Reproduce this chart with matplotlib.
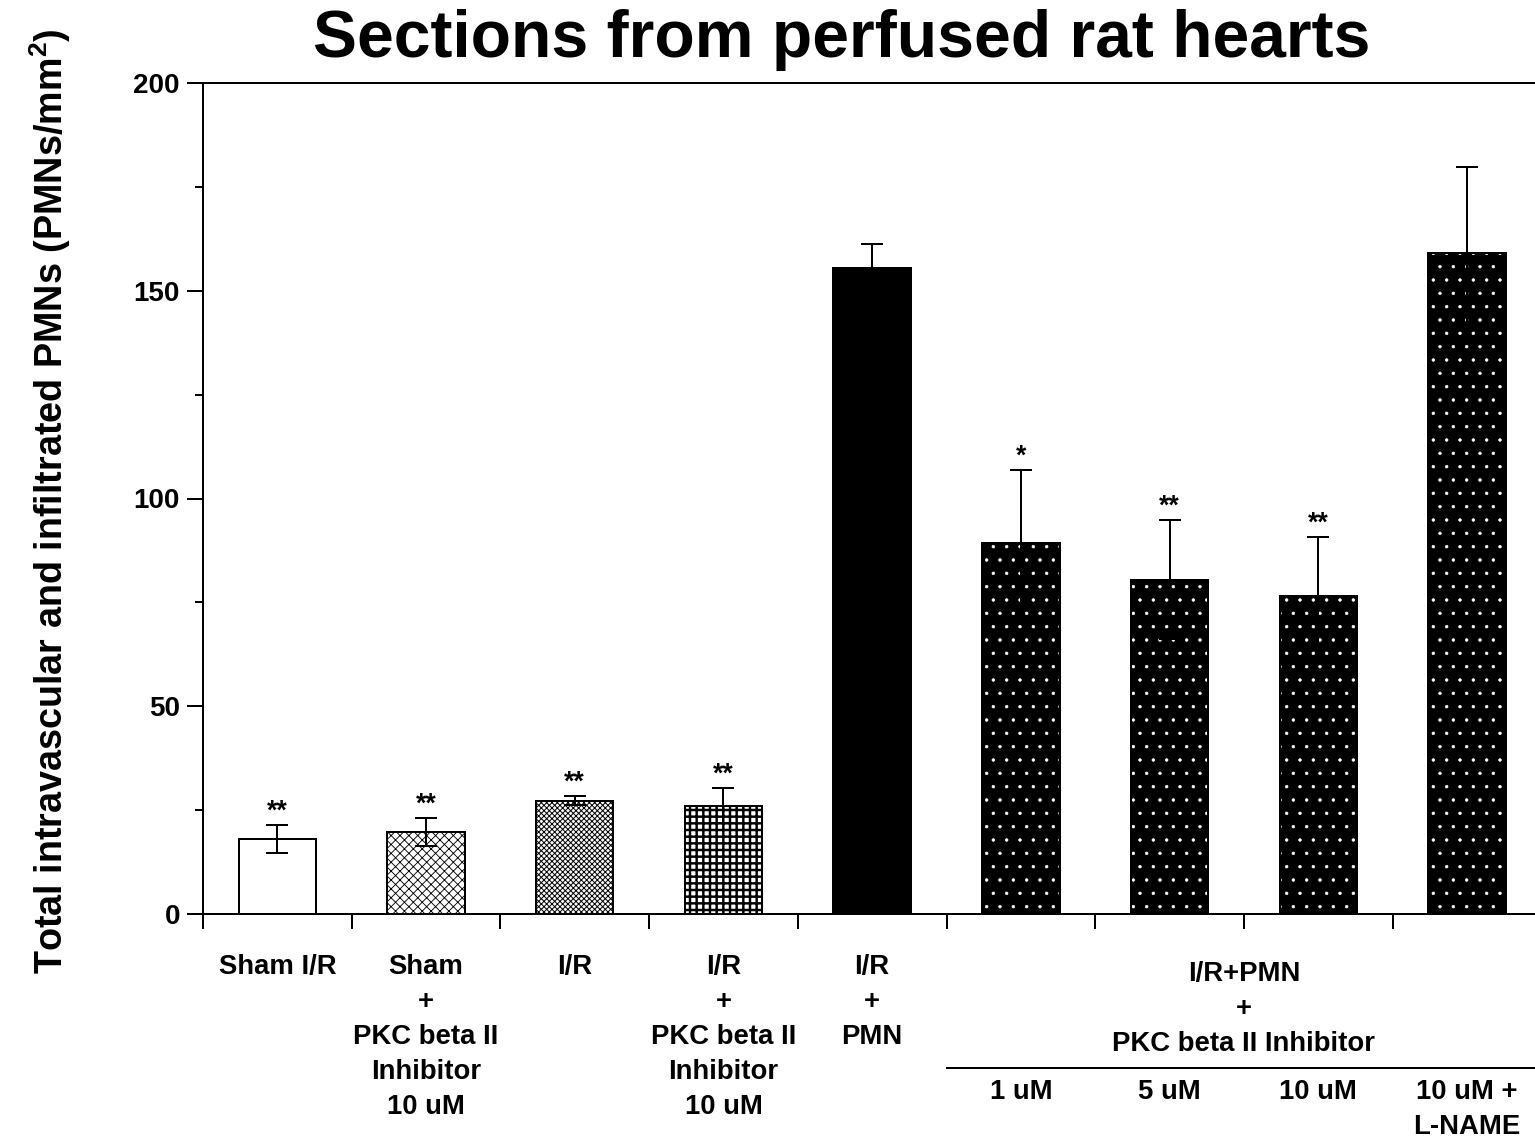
import numpy as np
import matplotlib
matplotlib.use("Agg")
import matplotlib.pyplot as plt
from matplotlib.transforms import blended_transform_factory
from matplotlib.ticker import MultipleLocator

# ---- data -------------------------------------------------------------
categories = [
    "Sham I/R",
    "Sham\n+\nPKC beta II\nInhibitor\n10 uM",
    "I/R",
    "I/R\n+\nPKC beta II\nInhibitor\n10 uM",
    "I/R\n+\nPMN",
    "1 uM",
    "5 uM",
    "10 uM",
    "10 uM +\nL-NAME",
]
means = [18.0, 19.8, 27.3, 26.1, 155.5, 89.2, 80.5, 76.5, 159.0]
sems = [3.4, 3.4, 1.1, 4.2, 5.8, 17.7, 14.3, 14.3, 20.8]
stars = ["**", "**", "**", "**", "", "*", "**", "**", ""]
group_label = "I/R+PMN\n+\nPKC beta II Inhibitor"
group_members = [5, 6, 7, 8]
title = "Sections from perfused rat hearts"
ylabel = "Total intravascular and infiltrated PMNs (PMNs/mm$^{2}$)"

# fill style per bar: (face colour, hatch, hatch colour, hatch linewidth)
fills = [
    ("white", None, "black", 1.0),
    ("white", "xxx", "black", 0.8),
    ("white", "xxxxx", "black", 0.9),
    ("white", "++", "black", 2.2),
    ("black", None, "black", 1.0),
    ("black", ".", "white", 0.6),
    ("black", ".", "white", 0.6),
    ("black", ".", "white", 0.6),
    ("black", ".", "white", 0.6),
]

# ---- figure ------------------------------------------------------------
DPI = 80
W, H = 1535, 1146
plt.rcParams["font.family"] = ["Liberation Sans", "DejaVu Sans"]
plt.rcParams["font.weight"] = "bold"
plt.rcParams["mathtext.fontset"] = "custom"
plt.rcParams["mathtext.rm"] = "Liberation Sans:bold"
plt.rcParams["mathtext.it"] = "Liberation Sans:bold"
plt.rcParams["mathtext.bf"] = "Liberation Sans:bold"
plt.rcParams["mathtext.default"] = "rm"

fig = plt.figure(figsize=(W / DPI, H / DPI), dpi=DPI)
fig.patch.set_facecolor("white")

ax_left, ax_bottom, ax_top = 203, 914, 83
cat_w = 148.7
ax = fig.add_axes([ax_left / W, (H - ax_bottom) / H,
                   9 * cat_w / W, (ax_bottom - ax_top) / H])

px = 72.0 / DPI  # points per pixel
lw = 2.0 * px

x = np.arange(len(categories))
bar_w = 0.52

# filled / hatched bodies
for xi, m, (fc, hatch, hc, hlw) in zip(x, means, fills):
    b = ax.bar(xi, m, width=bar_w, color=fc, edgecolor=hc, linewidth=0,
               zorder=2)[0]
    if hatch:
        b.set_hatch(hatch)
        if hasattr(b, "set_hatch_linewidth"):
            b.set_hatch_linewidth(hlw)

# outlines
ax.bar(x, means, width=bar_w, fill=False, edgecolor="black", linewidth=lw,
       zorder=3)

# error bars
ax.errorbar(x, means, yerr=sems, fmt="none", ecolor="black",
            elinewidth=lw, capsize=11 * px, capthick=lw, zorder=4)

# significance marks
for xi, m, s, st in zip(x, means, sems, stars):
    if st:
        ax.annotate(st, (xi, m + s), xytext=(0, 6 * px),
                    textcoords="offset points", ha="center", va="baseline",
                    fontsize=24, fontweight="bold")

# ---- axes styling ------------------------------------------------------
ax.set_xlim(-0.5, len(categories) - 0.5)
ax.set_ylim(0, 200)
ax.yaxis.set_major_locator(MultipleLocator(50))
ax.yaxis.set_minor_locator(MultipleLocator(25))
ax.set_xticks(np.arange(-0.5, len(categories), 1.0))
ax.set_xticklabels([])
ax.tick_params(axis="x", direction="out", length=15 * px, width=lw)
ax.tick_params(axis="y", which="major", direction="out", length=16 * px,
               width=lw, labelsize=25, pad=7 * px)
ax.tick_params(axis="y", which="minor", direction="out", length=8 * px,
               width=lw)
for lab in ax.get_yticklabels():
    lab.set_fontweight("bold")
for side in ("left", "bottom", "top"):
    ax.spines[side].set_linewidth(lw)
ax.spines["right"].set_visible(False)

trans = blended_transform_factory(ax.transData, ax.transAxes)


def frac(ypix):
    return (ax_bottom - ypix) / (ax_bottom - ax_top)


LS = 1.45

# category labels
for xi, lab in enumerate(categories):
    top = 1079 if xi in group_members else 954
    ax.text(xi, frac(top), lab, transform=trans, ha="center", va="top",
            fontsize=24.75, fontweight="bold", linespacing=LS,
            clip_on=False)

# grouped treatment label with rule
gx = (group_members[0] + group_members[-1]) / 2
ax.text(gx, frac(961), group_label, transform=trans, ha="center", va="top",
        fontsize=24.75, fontweight="bold", linespacing=LS, clip_on=False)
ax.plot([group_members[0] - 0.5, group_members[-1] + 0.5],
        [frac(1068), frac(1068)], transform=trans, color="black",
        linewidth=lw, clip_on=False)

# title and y label
fig.text(842 / W, 1 - 40 / H, title, ha="center", va="center",
         fontsize=59.4, fontweight="bold")
fig.text(50 / W, 1 - 501 / H, ylabel, ha="center", va="center",
         rotation=90, fontsize=34, fontweight="bold")

fig.savefig("out.png", dpi=DPI, facecolor="white")
